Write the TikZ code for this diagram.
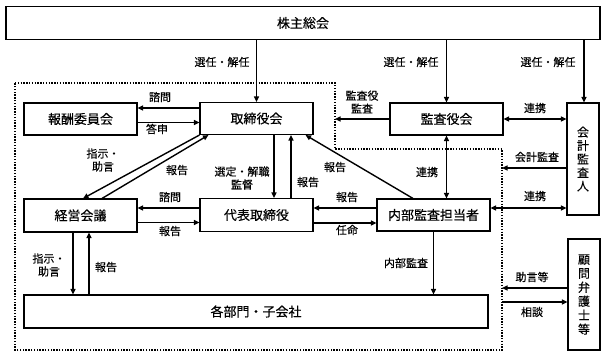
\documentclass[tikz,border=0pt]{standalone}
\usepackage{fontspec}
\setmainfont{Noto Sans CJK JP}[FakeBold=0.35]
\usetikzlibrary{arrows.meta}
\begin{document}
\begin{tikzpicture}[x=1pt,y=-1pt,
  box/.style={draw, line width=1.1pt, inner sep=0pt, minimum width=113pt, minimum height=32pt, font=\fontsize{13}{15}\selectfont},
  vbox/.style={draw, line width=1.1pt, inner sep=0pt, minimum width=32pt, align=center, font=\fontsize{12}{13.5}\selectfont},
  lbl/.style={font=\fontsize{11}{13}\selectfont, inner sep=0pt, align=center},
  arr/.style={line width=1.4pt, -{Triangle[length=5.5pt,width=5pt]}},
  darr/.style={line width=1.4pt, {Triangle[length=5.5pt,width=5pt]}-{Triangle[length=5.5pt,width=5pt]}},
  dots/.style={line width=1.4pt, dash pattern=on 1.4pt off 1.4pt}]
\useasboundingbox (0,0) rectangle (606,360);
% dotted region
\draw[dots] (15,83) -- (335,83) -- (335,149) -- (502,149) -- (502,350) -- (15,350) -- cycle;
% boxes
\node[box, minimum width=594pt, minimum height=33pt] (sh) at (303,23) {株主総会};
\node[box] (hou) at (80.5,119) {報酬委員会};
\node[box] (tori) at (256.5,118.5) {取締役会};
\node[box] (kan) at (446.5,119) {監査役会};
\node[vbox, minimum height=112pt] (kaikei) at (583,159) {会\\計\\監\\査\\人};
\node[box, minimum height=33pt] (kei) at (80.5,215.5) {経営会議};
\node[box, minimum height=33pt] (dai) at (256.5,215) {代表取締役};
\node[box, minimum height=32pt] (nai) at (433.5,215) {内部監査担当者};
\node[box, minimum width=464pt, minimum height=33pt] (kaku) at (256,311.5) {各部門・子会社};
\node[vbox, minimum height=111pt, font=\fontsize{12}{14}\selectfont] (komon) at (584,294.5) {顧\\問\\弁\\護\\士\\等};
% coordinates on the dotted boundary
\coordinate (d1) at (335,119);
\coordinate (d2) at (502,168);
\coordinate (d3) at (502,288);
\coordinate (d4) at (502,302);
% connectors
\draw[arr] (sh.south -| tori.north) -- (tori.north);
\draw[arr] (sh.south -| kan.north) -- (kan.north);
\draw[arr] ([xshift=1pt]sh.south -| kaikei.north) -- ([xshift=1pt]kaikei.north);
\draw[arr] ([yshift=10.5pt]tori.west) -- ([yshift=10.5pt]tori.west -| hou.east);
\draw[arr] ([yshift=-3.5pt]hou.east) -- ([yshift=-3.5pt]hou.east -| tori.west);
\draw[arr] (tori.south west) -- ([xshift=2.5pt]kei.north);
\draw[arr] ([xshift=21.5pt]kei.north) -- ([xshift=9pt]tori.south west);
\draw[arr] ([xshift=17.5pt]tori.south) -- ([xshift=17.5pt]dai.north);
\draw[arr] ([xshift=34.5pt]dai.north) -- ([xshift=34.5pt]tori.south);
\draw[arr] ([xshift=-20.5pt]nai.north) -- ([xshift=-8pt]tori.south east);
\draw[arr] (kan.west |- d1) -- (d1);
\draw[darr] (kan.east) -- (kan.east -| kaikei.west);
\draw[darr] (kan.south) -- (kan.south |- nai.north);
\draw[arr] (kaikei.west |- d2) -- (d2);
\draw[darr] ([yshift=7pt]nai.east) -- ([yshift=7pt]nai.east -| kaikei.west);
\draw[arr] ([yshift=7pt]dai.west) -- ([yshift=7pt]dai.west -| kei.east);
\draw[arr] ([yshift=-7pt]kei.east) -- ([yshift=-7pt]kei.east -| dai.west);
\draw[arr] ([yshift=7pt]nai.west) -- ([yshift=7pt]nai.west -| dai.east);
\draw[arr] ([yshift=-8pt]dai.east) -- ([yshift=-8pt]dai.east -| nai.west);
\draw[arr] ([xshift=-7.5pt]kei.south) -- ([xshift=-7.5pt]kei.south |- kaku.north);
\draw[arr] ([xshift=8.5pt]kei.south |- kaku.north) -- ([xshift=8.5pt]kei.south);
\draw[arr] (nai.south) -- (nai.south |- kaku.north);
\draw[arr] (komon.west |- d3) -- (d3);
\draw[arr] (d4) -- (komon.west |- d4);
% labels
\node[lbl] (l1) at (222,62) {選任・解任};
\node[lbl] (l2) at (411,62) {選任・解任};
\node[lbl] (l3) at (548,62) {選任・解任};
\node[lbl] (l4) at (160,97) {諮問};
\node[lbl] (l5) at (157,129) {答申};
\node[lbl] (l6) at (103,160) {指示・\\助言};
\node[lbl] (l7) at (177,170) {報告};
\node[lbl] (l8) at (242,178) {選定・解職\\監督};
\node[lbl] (l9) at (308,182) {報告};
\node[lbl] (l10) at (335,167) {報告};
\node[lbl] (l11) at (362,102) {監査役\\監査};
\node[lbl] (l12) at (535,108) {連携};
\node[lbl] (l13) at (427,172) {連携};
\node[lbl] (l14) at (537,157) {会計監査};
\node[lbl] (l15) at (535,196) {連携};
\node[lbl] (l16) at (170,197) {諮問};
\node[lbl] (l17) at (170,231) {報告};
\node[lbl] (l18) at (347,197) {報告};
\node[lbl] (l19) at (347,230) {任命};
\node[lbl] (l20) at (49,265) {指示・\\助言};
\node[lbl] (l21) at (106,267) {報告};
\node[lbl] (l22) at (406,263) {内部監査};
\node[lbl] (l23) at (532,277) {助言等};
\node[lbl] (l24) at (532,312) {相談};
\end{tikzpicture}
\end{document}
